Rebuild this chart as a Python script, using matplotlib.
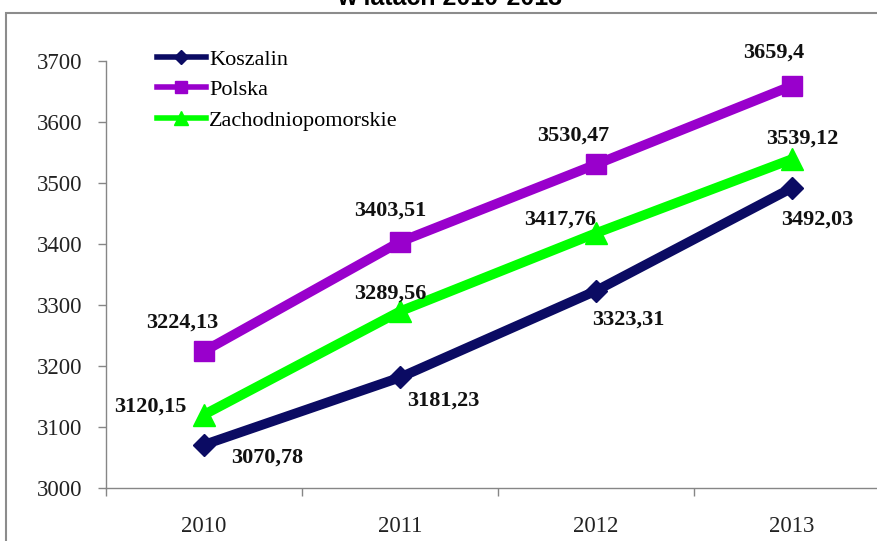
import matplotlib.pyplot as plt
from matplotlib.lines import Line2D
from matplotlib.patches import Rectangle

# Dane z wykresu
lata = ["2010", "2011", "2012", "2013"]
koszalin = [3070.78, 3181.23, 3323.31, 3492.03]
polska = [3224.13, 3403.51, 3530.47, 3659.4]
zachodniopomorskie = [3120.15, 3289.56, 3417.76, 3539.12]
y_ticks = [3000, 3100, 3200, 3300, 3400, 3500, 3600, 3700]

# Przesunięcia etykiet (piksele)
off_koszalin = [(63, -13), (43, -23), (32, -29), (25, -32)]
off_polska = [(-22, 29), (-10, 31), (-23, 29), (-18, 33)]
off_zach = [(-54, 8), (-10, 18), (-36, 14), (10, 21)]

W, H = 878, 541
fig = plt.figure(figsize=(W / 100, H / 100), dpi=100)
ax = fig.add_axes([106 / W, 1 - 488 / H, (890 - 106) / W, (488 - 61) / H])

x = list(range(len(lata)))
serie = [
    ("Koszalin", koszalin, "#0b0b63", "D", 11, off_koszalin),
    ("Polska", polska, "#9900cc", "s", 14, off_polska),
    ("Zachodniopomorskie", zachodniopomorskie, "#00ff00", "^", 16, off_zach),
]

for nazwa, wartosci, kolor, marker, ms, offs in serie:
    ax.plot(x, wartosci, color=kolor, lw=7, marker=marker, ms=ms,
            solid_capstyle="butt", solid_joinstyle="round", zorder=3)
    for xi, v, off in zip(x, wartosci, offs):
        ax.annotate(str(v).replace(".", ","), (xi, v), xytext=off,
                    textcoords="offset pixels", ha="center", va="center",
                    fontsize=16, fontweight="bold", family="Liberation Serif",
                    color="#111111", zorder=4)

ax.set_xlim(-0.5, 3.5)
ax.set_ylim(3000, 3700)
ax.set_yticks(y_ticks)
ax.set_yticklabels([str(t) for t in y_ticks], family="Liberation Serif",
                   fontsize=16.5, color="#222222")
ax.set_xticks(x)
ax.set_xticklabels(lata, family="Liberation Serif", fontsize=16.5, color="#222222")
ax.set_xticks([-0.5, 0.5, 1.5, 2.5, 3.5], minor=True)
ax.tick_params(axis="x", which="major", length=0, pad=20)
ax.tick_params(axis="x", which="minor", length=6, color="#868686", width=1)
ax.tick_params(axis="y", length=6, color="#868686", width=1, pad=11)
for s in ["top", "right"]:
    ax.spines[s].set_visible(False)
for s in ["left", "bottom"]:
    ax.spines[s].set_color("#868686")
    ax.spines[s].set_linewidth(1)

# Legenda
uchwyty = [
    Line2D([], [], color=k, lw=4, marker=m, ms=ms * 0.65)
    for _, _, k, m, ms, _ in serie
]
fig.legend(uchwyty, [s[0] for s in serie], loc="upper left",
           bbox_to_anchor=(157 / W, 1 - 49 / H), frameon=False, borderpad=0,
           borderaxespad=0, handlelength=2.2, handletextpad=0.15,
           labelspacing=0.45, prop={"family": "Liberation Serif", "size": 16})

# Ramka wykresu i tytuł
fig.patches.append(Rectangle((6 / W, -0.1), 1.2, 1.1 - 13 / H, fill=False,
                             edgecolor="#8c8c8c", lw=1.5,
                             transform=fig.transFigure, figure=fig))
fig.text(450 / W, 1 - 5 / H, "w latach 2010-2013", ha="center", va="baseline",
         fontsize=18, fontweight="bold", family="Liberation Sans")

fig.savefig("out.png", dpi=100)
